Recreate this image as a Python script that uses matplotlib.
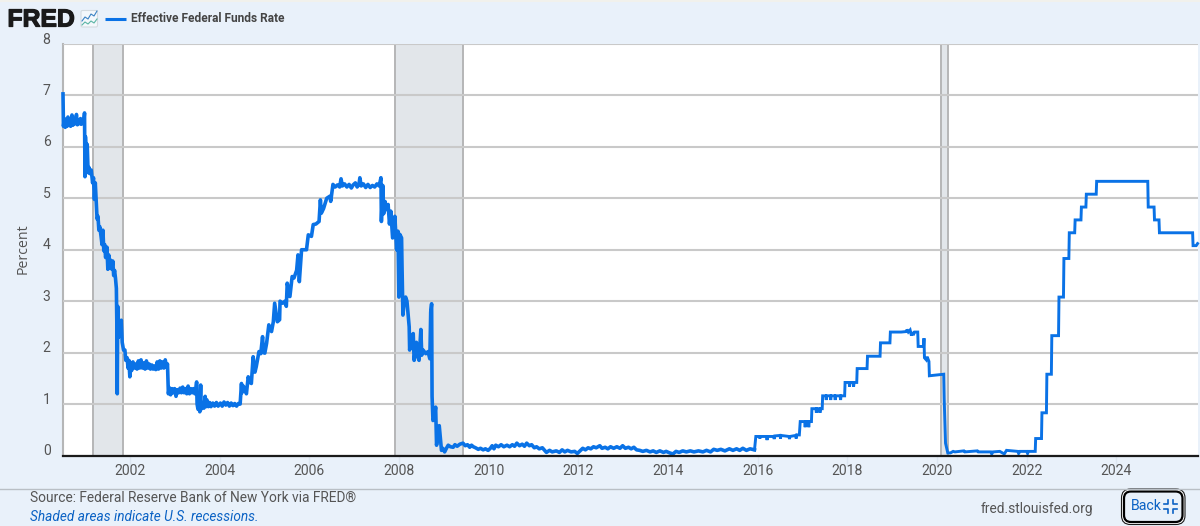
import matplotlib
matplotlib.use("Agg")
import matplotlib.patheffects as pe
import matplotlib.pyplot as plt
from matplotlib.patches import FancyBboxPatch, Rectangle
from matplotlib.transforms import ScaledTranslation

plt.rcParams["font.family"] = ["Roboto", "DejaVu Sans"]

BLUE = "#0a72e6"
PAGE = "#e9f1fa"
GRID = "#c9c9c9"
SHADE = "#e2e6ea"
EDGE = "#b5b6b7"
TEXT = "#555555"

SERIES_NAME = "Effective Federal Funds Rate"
Y_TICKS = [0, 1, 2, 3, 4, 5, 6, 7, 8]
X_TICKS = list(range(2002, 2026, 2))
RECESSIONS = [(2001.17, 2001.84), (2007.92, 2009.42), (2020.09, 2020.25)]

# (decimal year, percent), one list per stretch of the series
rate_2000 = [
    (2000.51, 7.03), (2000.52, 6.40), (2000.54, 6.55), (2000.56, 6.38), (2000.58, 6.50),
    (2000.60, 6.40), (2000.62, 6.58), (2000.64, 6.42), (2000.66, 6.52), (2000.68, 6.40),
    (2000.71, 6.62), (2000.73, 6.42), (2000.76, 6.55), (2000.78, 6.45), (2000.81, 6.63),
    (2000.83, 6.43), (2000.86, 6.52), (2000.88, 6.45), (2000.90, 6.55), (2000.92, 6.44),
    (2000.94, 6.52), (2000.97, 6.47), (2000.99, 6.66),
]
rate_2001 = [
    (2001.00, 5.42), (2001.01, 6.20), (2001.03, 5.80), (2001.05, 6.05), (2001.07, 5.50),
    (2001.09, 5.60), (2001.11, 5.48), (2001.14, 5.55), (2001.17, 5.30), (2001.19, 5.40),
    (2001.21, 4.98), (2001.23, 5.30), (2001.25, 4.95), (2001.27, 4.60), (2001.29, 4.65),
    (2001.31, 4.38), (2001.33, 4.45), (2001.36, 4.25), (2001.38, 4.10), (2001.40, 4.38),
    (2001.42, 3.98), (2001.44, 4.10), (2001.46, 3.85), (2001.49, 4.05), (2001.51, 3.62),
    (2001.53, 3.90), (2001.55, 3.65), (2001.57, 3.80), (2001.60, 3.62), (2001.62, 3.78),
    (2001.64, 3.50), (2001.66, 3.60), (2001.68, 3.45), (2001.70, 3.25), (2001.71, 2.60),
    (2001.72, 1.20), (2001.73, 2.90), (2001.75, 2.30), (2001.77, 2.55), (2001.79, 2.35),
    (2001.81, 2.63), (2001.83, 2.20), (2001.86, 2.05), (2001.89, 2.05), (2001.91, 1.85),
    (2001.94, 1.90), (2001.96, 1.70), (2001.98, 1.85),
]
rate_2002 = [
    (2002.00, 1.53), (2002.02, 1.80), (2002.04, 1.65), (2002.07, 1.82), (2002.10, 1.70),
    (2002.13, 1.78), (2002.16, 1.68), (2002.19, 1.84), (2002.22, 1.70), (2002.25, 1.86),
    (2002.28, 1.70), (2002.31, 1.80), (2002.34, 1.68), (2002.37, 1.84), (2002.40, 1.70),
    (2002.43, 1.78), (2002.46, 1.68), (2002.49, 1.76), (2002.52, 1.68), (2002.55, 1.74),
    (2002.58, 1.67), (2002.61, 1.82), (2002.64, 1.68), (2002.67, 1.84), (2002.70, 1.70),
    (2002.73, 1.82), (2002.76, 1.70), (2002.79, 1.86), (2002.82, 1.72), (2002.84, 1.78),
    (2002.86, 1.20), (2002.88, 1.32), (2002.91, 1.18), (2002.94, 1.30), (2002.97, 1.22),
]
rate_2003 = [
    (2003.00, 1.30), (2003.03, 1.15), (2003.06, 1.28), (2003.09, 1.22), (2003.12, 1.31),
    (2003.15, 1.22), (2003.18, 1.33), (2003.21, 1.22), (2003.24, 1.30), (2003.27, 1.20),
    (2003.30, 1.35), (2003.33, 1.20), (2003.36, 1.30), (2003.39, 1.22), (2003.42, 1.30),
    (2003.45, 1.20), (2003.47, 1.28), (2003.49, 1.43), (2003.50, 1.00), (2003.52, 0.90),
    (2003.54, 1.05), (2003.56, 0.85), (2003.58, 1.37), (2003.59, 0.90), (2003.62, 0.98),
    (2003.65, 0.92), (2003.68, 1.15), (2003.70, 0.95), (2003.72, 1.08), (2003.75, 0.95),
    (2003.78, 1.03), (2003.81, 0.95), (2003.85, 1.02), (2003.89, 0.96), (2003.93, 1.03),
    (2003.97, 0.96),
]
rate_2004 = [
    (2004.02, 1.02), (2004.06, 0.96), (2004.10, 1.04), (2004.14, 0.98), (2004.18, 1.03),
    (2004.22, 0.96), (2004.26, 1.02), (2004.30, 0.97), (2004.34, 1.01), (2004.38, 0.96),
    (2004.42, 1.01), (2004.46, 1.00), (2004.49, 1.40), (2004.50, 1.22), (2004.53, 1.35),
    (2004.57, 1.30), (2004.60, 1.20), (2004.64, 1.53), (2004.68, 1.42), (2004.71, 1.40),
    (2004.75, 1.92), (2004.79, 1.62), (2004.82, 1.73), (2004.86, 1.92), (2004.88, 2.02),
    (2004.92, 1.98), (2004.96, 2.31), (2004.98, 2.00),
]
rate_2005 = [
    (2005.01, 1.99), (2005.05, 2.18), (2005.10, 2.54), (2005.16, 2.41), (2005.20, 2.60),
    (2005.23, 2.96), (2005.29, 2.60), (2005.34, 2.64), (2005.35, 3.00), (2005.41, 2.96),
    (2005.46, 3.00), (2005.49, 2.90), (2005.51, 3.35), (2005.57, 3.09), (2005.62, 3.48),
    (2005.66, 3.45), (2005.72, 3.60), (2005.75, 3.90), (2005.78, 3.38), (2005.83, 4.00),
    (2005.94, 4.00), (2005.98, 4.29),
]
rate_2006 = [
    (2006.05, 4.26), (2006.09, 4.49), (2006.15, 4.50), (2006.22, 4.55), (2006.25, 4.97),
    (2006.27, 4.71), (2006.32, 4.80), (2006.39, 5.00), (2006.46, 5.04), (2006.48, 4.94),
    (2006.53, 5.27), (2006.58, 5.22), (2006.63, 5.26), (2006.68, 5.22), (2006.71, 5.38),
    (2006.74, 5.24), (2006.79, 5.28), (2006.84, 5.22), (2006.89, 5.27), (2006.94, 5.20),
    (2006.98, 5.26),
]
rate_2007 = [
    (2007.03, 5.30), (2007.07, 5.22), (2007.11, 5.27), (2007.13, 5.40), (2007.16, 5.24),
    (2007.21, 5.28), (2007.26, 5.21), (2007.31, 5.27), (2007.36, 5.21), (2007.41, 5.25),
    (2007.46, 5.22), (2007.51, 5.28), (2007.56, 5.24), (2007.60, 5.40), (2007.61, 4.55),
    (2007.64, 5.25), (2007.66, 4.70), (2007.69, 4.94), (2007.73, 4.78), (2007.76, 4.88),
    (2007.79, 4.50), (2007.82, 4.75), (2007.86, 4.23), (2007.91, 4.65), (2007.95, 4.00),
    (2007.98, 4.36),
]
rate_2008 = [
    (2008.00, 3.08), (2008.02, 4.30), (2008.06, 4.23), (2008.07, 3.68), (2008.09, 2.73),
    (2008.12, 3.00), (2008.15, 3.08), (2008.18, 3.00), (2008.23, 2.50), (2008.24, 2.05),
    (2008.27, 2.30), (2008.32, 2.37), (2008.34, 1.85), (2008.39, 2.20), (2008.41, 1.95),
    (2008.45, 1.85), (2008.49, 2.45), (2008.51, 1.95), (2008.54, 2.05), (2008.60, 1.98),
    (2008.65, 2.02), (2008.69, 1.88), (2008.71, 2.79), (2008.73, 2.95), (2008.74, 1.15),
    (2008.76, 0.68), (2008.79, 0.75), (2008.82, 0.94), (2008.84, 0.20), (2008.90, 0.58),
    (2008.95, 0.10), (2008.98, 0.14),
]
rate_2009_2012 = [
    (2009.02, 0.07), (2009.06, 0.14), (2009.10, 0.20), (2009.15, 0.17), (2009.21, 0.16),
    (2009.25, 0.21), (2009.30, 0.18), (2009.36, 0.22), (2009.43, 0.24), (2009.48, 0.19),
    (2009.53, 0.21), (2009.58, 0.16), (2009.62, 0.20), (2009.66, 0.17), (2009.71, 0.15),
    (2009.77, 0.12), (2009.82, 0.14), (2009.88, 0.11), (2009.93, 0.13), (2009.99, 0.10),
    (2010.04, 0.14), (2010.08, 0.19), (2010.12, 0.13), (2010.16, 0.20), (2010.22, 0.17),
    (2010.28, 0.21), (2010.34, 0.17), (2010.41, 0.20), (2010.47, 0.17), (2010.53, 0.21),
    (2010.58, 0.18), (2010.63, 0.24), (2010.69, 0.19), (2010.75, 0.22), (2010.80, 0.18),
    (2010.85, 0.24), (2010.91, 0.19), (2010.96, 0.21), (2011.02, 0.15), (2011.07, 0.17),
    (2011.13, 0.13), (2011.20, 0.15), (2011.25, 0.10), (2011.29, 0.06), (2011.36, 0.10),
    (2011.42, 0.07), (2011.51, 0.09), (2011.58, 0.06), (2011.64, 0.11), (2011.70, 0.07),
    (2011.76, 0.10), (2011.84, 0.07), (2011.92, 0.08), (2011.98, 0.04),
]
rate_2012_2015 = [
    (2012.05, 0.10), (2012.10, 0.14), (2012.16, 0.11), (2012.22, 0.15), (2012.28, 0.13),
    (2012.34, 0.17), (2012.40, 0.15), (2012.48, 0.19), (2012.53, 0.14), (2012.60, 0.16),
    (2012.66, 0.13), (2012.72, 0.17), (2012.79, 0.14), (2012.86, 0.17), (2012.93, 0.14),
    (2012.99, 0.19), (2013.05, 0.14), (2013.12, 0.16), (2013.18, 0.13), (2013.24, 0.16),
    (2013.30, 0.11), (2013.37, 0.10), (2013.44, 0.08), (2013.52, 0.10), (2013.60, 0.07),
    (2013.67, 0.09), (2013.74, 0.06), (2013.82, 0.09), (2013.90, 0.06), (2013.96, 0.08),
    (2014.04, 0.05), (2014.11, 0.03), (2014.18, 0.08), (2014.25, 0.06), (2014.33, 0.09),
    (2014.41, 0.07), (2014.50, 0.09), (2014.58, 0.07), (2014.68, 0.09), (2014.78, 0.07),
    (2014.86, 0.10), (2014.95, 0.07), (2015.02, 0.12), (2015.10, 0.10), (2015.18, 0.12),
    (2015.27, 0.09), (2015.37, 0.13), (2015.45, 0.10), (2015.53, 0.13), (2015.60, 0.10),
    (2015.67, 0.14), (2015.75, 0.10), (2015.83, 0.13), (2015.93, 0.11),
]
rate_2016_2020 = [
    (2015.96, 0.37), (2016.04, 0.37), (2016.05, 0.33), (2016.06, 0.37), (2016.20, 0.37),
    (2016.21, 0.30), (2016.22, 0.37), (2016.36, 0.37), (2016.37, 0.32), (2016.38, 0.38),
    (2016.50, 0.39), (2016.51, 0.33), (2016.52, 0.39), (2016.70, 0.37), (2016.71, 0.32),
    (2016.72, 0.37), (2016.85, 0.39), (2016.86, 0.33), (2016.87, 0.40), (2016.93, 0.40),
    (2016.95, 0.66), (2017.05, 0.66), (2017.06, 0.55), (2017.07, 0.66), (2017.13, 0.66),
    (2017.14, 0.55), (2017.15, 0.66), (2017.20, 0.66), (2017.21, 0.91), (2017.30, 0.91),
    (2017.31, 0.83), (2017.32, 0.91), (2017.38, 0.91), (2017.39, 0.83), (2017.40, 0.91),
    (2017.44, 0.91), (2017.45, 1.16), (2017.52, 1.16), (2017.53, 1.08), (2017.54, 1.16),
    (2017.62, 1.16), (2017.63, 1.08), (2017.64, 1.16), (2017.72, 1.16), (2017.73, 1.08),
    (2017.74, 1.16), (2017.84, 1.16), (2017.85, 1.08), (2017.86, 1.16), (2017.94, 1.16),
    (2017.95, 1.42), (2018.04, 1.42), (2018.05, 1.34), (2018.06, 1.42), (2018.13, 1.42),
    (2018.14, 1.34), (2018.15, 1.42), (2018.21, 1.42), (2018.22, 1.69), (2018.44, 1.69),
    (2018.45, 1.93), (2018.73, 1.93), (2018.74, 2.19), (2018.95, 2.19), (2018.96, 2.40),
    (2019.20, 2.40), (2019.32, 2.41), (2019.33, 2.45), (2019.36, 2.40), (2019.40, 2.44),
    (2019.43, 2.33), (2019.45, 2.40), (2019.47, 2.34), (2019.50, 2.40), (2019.57, 2.40),
    (2019.58, 2.12), (2019.70, 2.12), (2019.71, 2.28), (2019.72, 1.90), (2019.76, 1.86),
    (2019.78, 1.92), (2019.82, 1.83), (2019.83, 1.55), (2020.15, 1.58), (2020.16, 1.10),
    (2020.19, 0.24), (2020.24, 0.05),
]
rate_2020_2025 = [
    (2020.30, 0.05), (2020.36, 0.08), (2020.40, 0.07), (2020.60, 0.09), (2020.62, 0.07),
    (2020.90, 0.09), (2020.92, 0.07), (2021.20, 0.07), (2021.22, 0.03), (2021.25, 0.07),
    (2021.40, 0.08), (2021.50, 0.03), (2021.55, 0.10), (2021.80, 0.08), (2021.82, 0.04),
    (2021.85, 0.08), (2022.00, 0.08), (2022.02, 0.04), (2022.04, 0.08), (2022.19, 0.08),
    (2022.20, 0.33), (2022.33, 0.33), (2022.34, 0.83), (2022.44, 0.83), (2022.45, 1.58),
    (2022.55, 1.58), (2022.56, 2.33), (2022.71, 2.33), (2022.72, 3.08), (2022.82, 3.08),
    (2022.83, 3.83), (2022.94, 3.83), (2022.95, 4.33), (2023.07, 4.33), (2023.08, 4.58),
    (2023.21, 4.58), (2023.22, 4.83), (2023.32, 4.83), (2023.33, 5.08), (2023.55, 5.08),
    (2023.56, 5.33), (2024.70, 5.33), (2024.71, 4.83), (2024.84, 4.83), (2024.85, 4.58),
    (2024.95, 4.58), (2024.96, 4.33), (2025.70, 4.33), (2025.71, 4.08), (2025.78, 4.08),
    (2025.81, 4.12),
]

noisy = (rate_2000 + rate_2001 + rate_2002 + rate_2003 + rate_2004 + rate_2005 + rate_2006
         + rate_2007 + rate_2008 + rate_2009_2012 + rate_2012_2015)
stepped = noisy[-1:] + rate_2016_2020 + rate_2020_2025

W, H = 1200, 526
fig = plt.figure(figsize=(W / 100, H / 100), dpi=100, facecolor=PAGE)

# plot area in pixels: x 63..1198, y 44..455
ax = fig.add_axes([63 / W, 1 - 455.5 / H, 1135 / W, 411.5 / H], facecolor="white")
ax.set_xlim(2000.51, 2025.82)
ax.set_ylim(0, 8)

for start, end in RECESSIONS:
    ax.axvspan(start, end, color=SHADE, lw=0, zorder=1)
    ax.axvline(start, color=EDGE, lw=1.4, zorder=2)
    ax.axvline(end, color=EDGE, lw=1.4, zorder=2)

ax.set_yticks(Y_TICKS)
ax.set_xticks(X_TICKS)
ax.grid(axis="y", color=GRID, lw=1.5, zorder=2)
ax.set_axisbelow(False)

# the daily noise before 2016 reads as a heavier band
ax.plot([r[0] for r in noisy], [r[1] for r in noisy], color=BLUE, lw=2.6,
        solid_joinstyle="round", zorder=3, clip_on=False)
ax.plot([r[0] for r in stepped], [r[1] for r in stepped], color=BLUE, lw=2.1,
        solid_joinstyle="miter", zorder=3, clip_on=False)

for side in ["top", "right"]:
    ax.spines[side].set_visible(False)
ax.spines["left"].set_color(EDGE)
ax.spines["left"].set_linewidth(1.5)
ax.spines["bottom"].set_color("#1a1a1a")
ax.spines["bottom"].set_linewidth(1.6)
ax.spines["bottom"].set_zorder(4)

ax.tick_params(axis="y", length=0, pad=9, labelsize=10.1, labelcolor=TEXT)
ax.tick_params(axis="x", length=7, width=1, color="#dce6f0", pad=-1, labelsize=10.1, labelcolor=TEXT)
lift = ScaledTranslation(0, 6 / 72 * 0.72, fig.dpi_scale_trans)
for label in ax.get_yticklabels():
    label.set_transform(label.get_transform() + lift)

ax.set_ylabel("Percent", fontsize=10.2, color=TEXT, family=["Open Sans", "DejaVu Sans"])
ax.yaxis.set_label_coords(31 / W, 1 - 249 / H, transform=fig.transFigure)

# header, footer and button are laid out in pixel coordinates
page = fig.add_axes([0, 0, 1, 1], zorder=5)
page.set_xlim(0, W)
page.set_ylim(H, 0)
page.axis("off")

page.add_patch(Rectangle((0, 0), W, 2, color="#f1f1ec", lw=0))
page.text(7.5, 19.5, "FRED", family=["Liberation Sans", "DejaVu Sans"], fontweight="bold",
          fontsize=17.8, color="#1a1a1a", va="center", ha="left",
          path_effects=[pe.withStroke(linewidth=0.9, foreground="#1a1a1a")])

page.add_patch(FancyBboxPatch((81, 10.5), 16.5, 16.5, boxstyle="round,pad=0,rounding_size=1.5",
                              fc="#f4f8fc", ec="#d5dbe0", lw=0.8))
page.plot([82, 85, 88, 91, 94, 97], [21, 17, 19, 14, 16, 11], color="#3b82c4", lw=0.8)
page.plot([82, 85, 88, 91, 94, 97], [25, 22, 24, 21, 23, 19], color="#5bb5a5", lw=0.8)

page.plot([105, 126], [19, 19], color=BLUE, lw=2.2, solid_capstyle="butt")
page.text(131, 18.5, SERIES_NAME, fontsize=8.55, fontweight="bold", color="#444444", va="center")

page.plot([0, W], [489, 489], color="#b9bfc5", lw=1)
page.text(30, 498, "Source: Federal Reserve Bank of New York via FRED®", fontsize=9.87,
          color=TEXT, va="center")
page.text(30, 517, "Shaded areas indicate U.S. recessions.", fontsize=9.8, style="italic",
          color="#0b62c4", va="center")
page.text(981, 509, "fred.stlouisfed.org", fontsize=9.9, color=TEXT, va="center")

# focused "Back" button with its double outline
page.add_patch(FancyBboxPatch((1121.5, 489), 63.5, 35.5, boxstyle="round,pad=0,rounding_size=9",
                              fc="white", ec="#1a1a1a", lw=0.8))
page.add_patch(FancyBboxPatch((1124, 491.5), 58.5, 30.5, boxstyle="round,pad=0,rounding_size=7",
                              fc=PAGE, ec="#000000", lw=1.6))
page.text(1131, 506.5, "Back", fontsize=10.2, color="#0b62c4", va="center")
for sx, sy in [(1, 1), (-1, 1), (1, -1), (-1, -1)]:
    cx, cy = 1170.5 - sx * 2.5, 506.5 - sy * 2.5
    page.plot([cx - sx * 4, cx, cx], [cy, cy, cy - sy * 4], color="#0b62c4", lw=1.2)

fig.savefig("out.png", dpi=100, facecolor=PAGE)
